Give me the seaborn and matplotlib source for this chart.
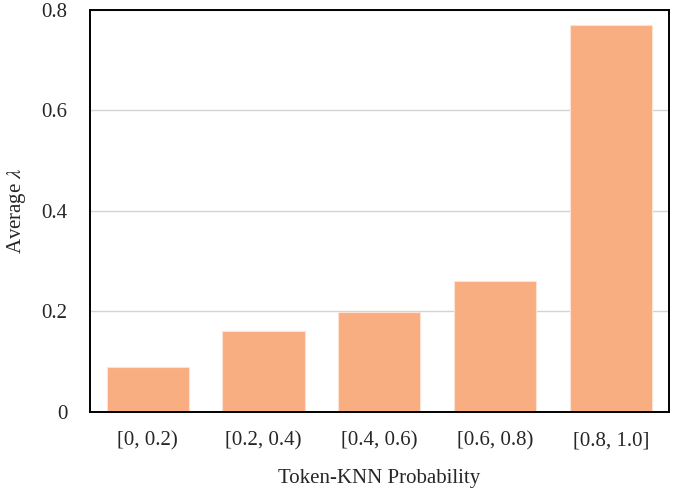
import matplotlib
matplotlib.use("Agg")
import matplotlib.pyplot as plt
import seaborn as sns
import pandas as pd

bins = ["[0, 0.2)", "[0.2, 0.4)", "[0.4, 0.6)", "[0.6, 0.8)", "[0.8, 1.0]"]
avg_lambda = [0.09, 0.16, 0.198, 0.26, 0.77]
yticks = [0, 0.2, 0.4, 0.6, 0.8]
ytick_labels = ["0", "0.2", "0.4", "0.6", "0.8"]

sns.set_theme(style="white")
plt.rcParams["font.family"] = ["Liberation Serif", "DejaVu Serif"]
plt.rcParams["mathtext.fontset"] = "stix"

df = pd.DataFrame({"bin": bins, "avg": avg_lambda})

fig = plt.figure(figsize=(6.81, 4.92), dpi=100)
ax = fig.add_axes([0.132, 0.163, 0.85, 0.817])
ax.set_axisbelow(True)
ax.yaxis.grid(True, color="#d3d3d3", linewidth=1.0)
sns.barplot(data=df, x="bin", y="avg", color="#f9ae82", saturation=1,
            width=0.71, edgecolor="#fde3d3", linewidth=0.8, ax=ax)

ax.set_ylim(0, 0.8)
ax.set_xlim(-0.5, 4.5)
ax.set_yticks(yticks)
ax.set_yticklabels(ytick_labels)
ax.tick_params(axis="x", length=0, labelsize=15, pad=14)
ax.tick_params(axis="y", length=0, labelsize=15, pad=16)
ax.set_xlabel("Token-KNN Probability", fontsize=15, labelpad=13)
ax.set_ylabel(r"Average $\lambda$", fontsize=15)
ax.yaxis.set_label_coords(-0.107, 0.5)
for s in ax.spines.values():
    s.set_color("black")
    s.set_linewidth(1.4)

fig.savefig("out.png", dpi=100)
